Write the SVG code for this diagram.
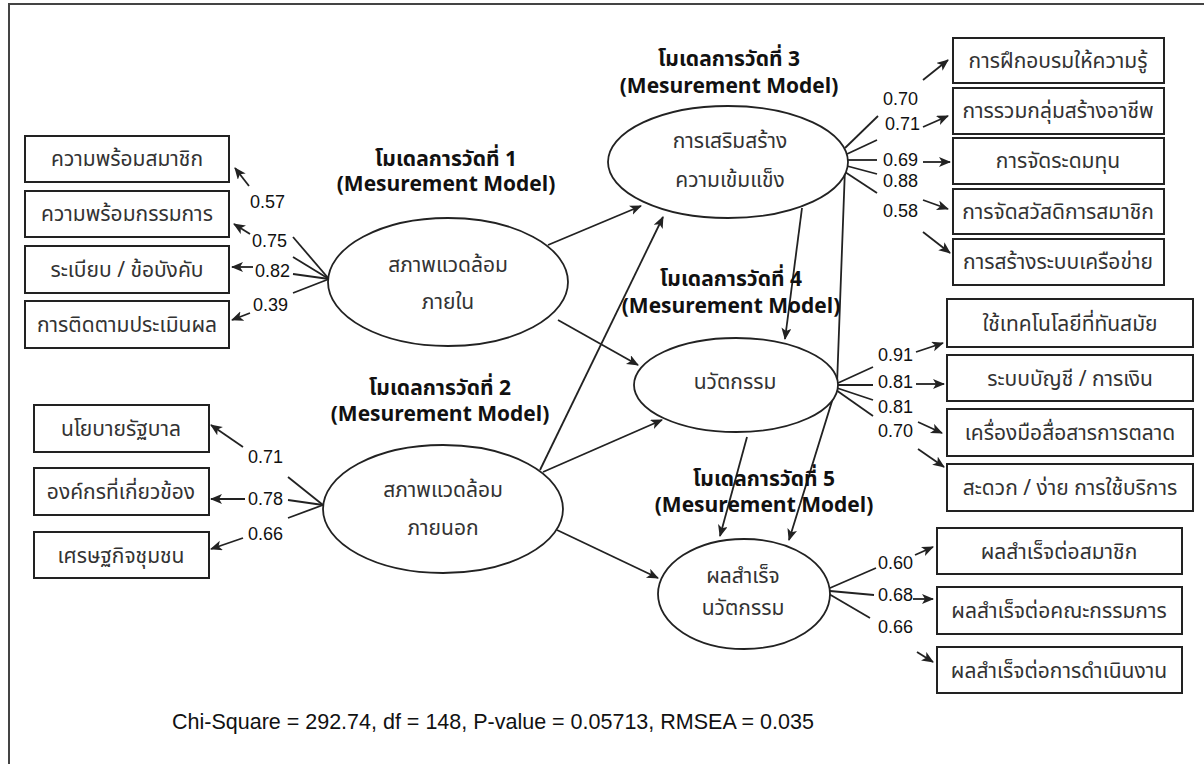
<svg xmlns="http://www.w3.org/2000/svg" width="1204" height="764" viewBox="0 0 1204 764">
<style>
.bg{fill:#fff}
.frame{fill:none;stroke:#444;stroke-width:2}
.box{fill:#fff;stroke:#222;stroke-width:2}
.ell{fill:#fff;stroke:#222;stroke-width:1.8}
.bt{font-family:"Noto Sans Thai","Noto Sans","DejaVu Sans",sans-serif;font-size:21px;fill:#333;text-anchor:middle}
.et{font-family:"Noto Sans Thai","Noto Sans","DejaVu Sans",sans-serif;font-size:21px;fill:#333;text-anchor:middle}
.tt{font-family:"Noto Sans Thai","Noto Sans","DejaVu Sans",sans-serif;font-size:21px;font-weight:bold;fill:#111;text-anchor:middle}
.lb{font-family:"Liberation Sans",Arial,sans-serif;font-size:18px;fill:#111}
.ft{font-family:"Liberation Sans",Arial,sans-serif;font-size:21.5px;fill:#111}
.ln{fill:none;stroke:#222;stroke-width:1.8}
.ar{fill:none;stroke:#222;stroke-width:1.8;marker-end:url(#ah)}
</style>
<defs>
<marker id="ah" markerUnits="userSpaceOnUse" markerWidth="14" markerHeight="12" refX="11" refY="5" orient="auto">
<path d="M0,0 L12,5 L0,10 L3,5 z" fill="#222"/>
</marker>
</defs>
<rect class="bg" x="0" y="0" width="1204" height="764"/>
<rect class="frame" x="9" y="4" width="1210" height="780"/>

<g id="connectors">
<line class="ln" x1="329" y1="279" x2="293" y2="237"/>
<line class="ln" x1="329" y1="279" x2="293" y2="257"/>
<line class="ln" x1="329" y1="279" x2="293" y2="274"/>
<line class="ln" x1="329" y1="279" x2="293" y2="293"/>
<line class="ar" x1="249" y1="186" x2="235" y2="168"/>
<line class="ar" x1="250" y1="234" x2="234" y2="224"/>
<line class="ar" x1="253" y1="267" x2="232" y2="267"/>
<line class="ar" x1="250" y1="313" x2="232" y2="320"/>
<line class="ln" x1="323" y1="505" x2="288" y2="477"/>
<line class="ln" x1="323" y1="505" x2="288" y2="500"/>
<line class="ln" x1="323" y1="505" x2="288" y2="518"/>
<line class="ar" x1="243" y1="447" x2="211" y2="425"/>
<line class="ar" x1="245" y1="499" x2="211" y2="499"/>
<line class="ar" x1="243" y1="538" x2="211" y2="549"/>
<line class="ln" x1="845" y1="148" x2="878" y2="116"/>
<line class="ln" x1="847" y1="154" x2="877" y2="140"/>
<line class="ln" x1="848" y1="160" x2="877" y2="160"/>
<line class="ln" x1="847" y1="166" x2="877" y2="174"/>
<line class="ln" x1="845" y1="172" x2="877" y2="193"/>
<line class="ar" x1="923" y1="80" x2="948" y2="60"/>
<line class="ar" x1="923" y1="127" x2="948" y2="116"/>
<line class="ar" x1="923" y1="162" x2="950" y2="162"/>
<line class="ar" x1="923" y1="200" x2="948" y2="209"/>
<line class="ar" x1="923" y1="232" x2="950" y2="253"/>
<line class="ln" x1="838" y1="383" x2="873" y2="367"/>
<line class="ln" x1="838" y1="385" x2="873" y2="385"/>
<line class="ln" x1="837" y1="388" x2="873" y2="400"/>
<line class="ln" x1="836" y1="390" x2="873" y2="416"/>
<line class="ar" x1="916" y1="352" x2="943" y2="343"/>
<line class="ar" x1="916" y1="384" x2="944" y2="384"/>
<line class="ar" x1="918" y1="422" x2="942" y2="433"/>
<line class="ar" x1="918" y1="449" x2="944" y2="467"/>
<line class="ln" x1="830" y1="588" x2="876" y2="568"/>
<line class="ln" x1="830" y1="591" x2="874" y2="595"/>
<line class="ln" x1="829" y1="594" x2="870" y2="618"/>
<line class="ar" x1="915" y1="555" x2="933" y2="547"/>
<line class="ar" x1="913" y1="599" x2="933" y2="599"/>
<line class="ar" x1="917" y1="652" x2="933" y2="662"/>
<line class="ar" x1="548" y1="245" x2="641" y2="206"/>
<line class="ar" x1="558" y1="320" x2="638" y2="365"/>
<line class="ar" x1="540" y1="470" x2="663" y2="217"/>
<line class="ar" x1="543" y1="472" x2="662" y2="420"/>
<line class="ar" x1="557" y1="530" x2="658" y2="578"/>
<line class="ar" x1="802" y1="208" x2="785" y2="339"/>
<polyline class="ar" points="845,168 837,385 789,540"/>
<line class="ar" x1="747" y1="437" x2="720" y2="536"/>
</g>

<g id="labels">
<text class="lb" x="250" y="208">0.57</text>
<text class="lb" x="252" y="247">0.75</text>
<text class="lb" x="255" y="277">0.82</text>
<text class="lb" x="253" y="311">0.39</text>
<text class="lb" x="248" y="463">0.71</text>
<text class="lb" x="248" y="505">0.78</text>
<text class="lb" x="248" y="540">0.66</text>
<text class="lb" x="883" y="105">0.70</text>
<text class="lb" x="885" y="130">0.71</text>
<text class="lb" x="883" y="166">0.69</text>
<text class="lb" x="883" y="187">0.88</text>
<text class="lb" x="883" y="217">0.58</text>
<text class="lb" x="878" y="361">0.91</text>
<text class="lb" x="878" y="388">0.81</text>
<text class="lb" x="878" y="413">0.81</text>
<text class="lb" x="878" y="437">0.70</text>
<text class="lb" x="878" y="569">0.60</text>
<text class="lb" x="878" y="601">0.68</text>
<text class="lb" x="878" y="633">0.66</text>
</g>

<g id="title1"><text class="tt" x="446" y="166">โมเดลการวัดที่ 1<tspan x="446" y="191">(Mesurement Model)</tspan></text></g>
<g id="title2"><text class="tt" x="440" y="395">โมเดลการวัดที่ 2<tspan x="440" y="421">(Mesurement Model)</tspan></text></g>
<g id="title3"><text class="tt" x="729" y="66">โมเดลการวัดที่ 3<tspan x="729" y="93">(Mesurement Model)</tspan></text></g>
<g id="title4"><text class="tt" x="731" y="286">โมเดลการวัดที่ 4<tspan x="731" y="313">(Mesurement Model)</tspan></text></g>
<g id="title5"><text class="tt" x="764" y="486">โมเดลการวัดที่ 5<tspan x="764" y="512">(Mesurement Model)</tspan></text></g>

<g id="latent1"><ellipse class="ell" cx="448" cy="282" rx="120" ry="64"/><text class="et" x="448" y="272">สภาพแวดล้อม<tspan x="448" y="309">ภายใน</tspan></text></g>
<g id="latent2"><ellipse class="ell" cx="443" cy="509" rx="120" ry="64"/><text class="et" x="443" y="497">สภาพแวดล้อม<tspan x="443" y="535">ภายนอก</tspan></text></g>
<g id="latent3"><ellipse class="ell" cx="728" cy="162" rx="120" ry="56"/><text class="et" x="730" y="148">การเสริมสร้าง<tspan x="730" y="187">ความเข้มแข็ง</tspan></text></g>
<g id="latent4"><ellipse class="ell" cx="736" cy="385" rx="102" ry="47"/><text class="et" x="735" y="389">นวัตกรรม</text></g>
<g id="latent5"><ellipse class="ell" cx="744" cy="594" rx="86" ry="55"/><text class="et" x="743" y="583">ผลสำเร็จ<tspan x="743" y="615">นวัตกรรม</tspan></text></g>

<g id="ind1a"><rect class="box" x="25" y="136" width="204" height="46"/><text class="bt" x="127" y="166">ความพร้อมสมาชิก</text></g>
<g id="ind1b"><rect class="box" x="25" y="191" width="204" height="46"/><text class="bt" x="127" y="221">ความพร้อมกรรมการ</text></g>
<g id="ind1c"><rect class="box" x="25" y="246" width="204" height="47"/><text class="bt" x="127" y="277">ระเบียบ / ข้อบังคับ</text></g>
<g id="ind1d"><rect class="box" x="25" y="301" width="204" height="47"/><text class="bt" x="127" y="332">การติดตามประเมินผล</text></g>

<g id="ind2a"><rect class="box" x="34" y="405" width="175" height="47"/><text class="bt" x="121" y="436">นโยบายรัฐบาล</text></g>
<g id="ind2b"><rect class="box" x="34" y="468" width="175" height="47"/><text class="bt" x="121" y="499">องค์กรที่เกี่ยวข้อง</text></g>
<g id="ind2c"><rect class="box" x="34" y="532" width="175" height="46"/><text class="bt" x="121" y="563">เศรษฐกิจชุมชน</text></g>

<g id="ind3a"><rect class="box" x="953" y="38" width="211" height="45"/><text class="bt" x="1058" y="68">การฝึกอบรมให้ความรู้</text></g>
<g id="ind3b"><rect class="box" x="953" y="88" width="211" height="46"/><text class="bt" x="1058" y="118">การรวมกลุ่มสร้างอาชีพ</text></g>
<g id="ind3c"><rect class="box" x="953" y="138" width="211" height="46"/><text class="bt" x="1058" y="168">การจัดระดมทุน</text></g>
<g id="ind3d"><rect class="box" x="953" y="189" width="211" height="45"/><text class="bt" x="1058" y="219">การจัดสวัสดิการสมาชิก</text></g>
<g id="ind3e"><rect class="box" x="953" y="239" width="211" height="46"/><text class="bt" x="1058" y="269">การสร้างระบบเครือข่าย</text></g>

<g id="ind4a"><rect class="box" x="947" y="299" width="246" height="48"/><text class="bt" x="1070" y="331">ใช้เทคโนโลยีที่ทันสมัย</text></g>
<g id="ind4b"><rect class="box" x="947" y="355" width="246" height="46"/><text class="bt" x="1070" y="386">ระบบบัญชี / การเงิน</text></g>
<g id="ind4c"><rect class="box" x="947" y="409" width="246" height="47"/><text class="bt" x="1070" y="440">เครื่องมือสื่อสารการตลาด</text></g>
<g id="ind4d"><rect class="box" x="947" y="464" width="246" height="47"/><text class="bt" x="1070" y="495">สะดวก / ง่าย การใช้บริการ</text></g>

<g id="ind5a"><rect class="box" x="937" y="528" width="245" height="46"/><text class="bt" x="1059" y="559">ผลสำเร็จต่อสมาชิก</text></g>
<g id="ind5b"><rect class="box" x="937" y="587" width="245" height="47"/><text class="bt" x="1059" y="618">ผลสำเร็จต่อคณะกรรมการ</text></g>
<g id="ind5c"><rect class="box" x="937" y="647" width="245" height="46"/><text class="bt" x="1059" y="678">ผลสำเร็จต่อการดำเนินงาน</text></g>

<text class="ft" x="172" y="729">Chi-Square = 292.74, df = 148, P-value = 0.05713, RMSEA = 0.035</text>
</svg>
